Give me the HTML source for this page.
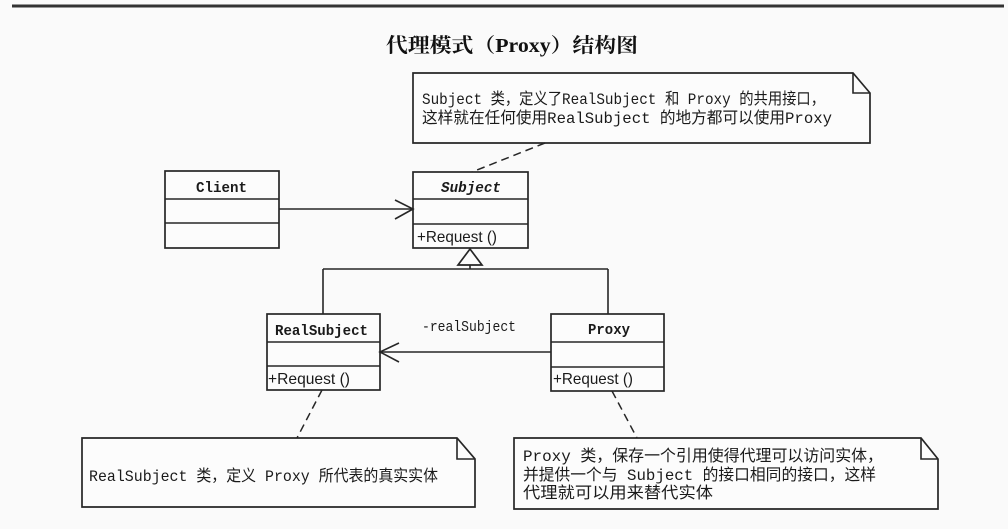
<!DOCTYPE html>
<html>
<head>
<meta charset="utf-8">
<style>
  html, body { margin: 0; padding: 0; background: #fafafa; }
  body { width: 1008px; height: 529px; overflow: hidden; }
  svg { display: block; }
  .ln { stroke: #262626; stroke-width: 1.6; fill: none; }
  .box { stroke: #262626; stroke-width: 1.7; fill: #fcfcfc; }
  .dash { stroke: #262626; stroke-width: 1.5; fill: none; stroke-dasharray: 8 5; }
  .mono { font-family: "Liberation Mono", "Noto Sans CJK SC", monospace; fill: #1a1a1a; }
  .note { font-family: "Liberation Mono", "Noto Sans CJK SC", monospace; font-size: 16px; fill: #1a1a1a; }
  .req { font-family: "Liberation Sans", sans-serif; font-size: 16px; fill: #1a1a1a; }
  .title { font-family: "Liberation Serif", "Noto Serif CJK SC", "Noto Sans CJK SC", serif; font-size: 20px; font-weight: bold; fill: #111; }
</style>
</head>
<body>
<svg width="1008" height="529" viewBox="0 0 1008 529" xmlns="http://www.w3.org/2000/svg">
  <!-- top rule -->
  <line x1="12" y1="6" x2="1004" y2="6" stroke="#333" stroke-width="3"/>

  <!-- title -->
  <text class="title" x="386" y="52" textLength="252" lengthAdjust="spacingAndGlyphs">代理模式（Proxy）结构图</text>

  <!-- top note -->
  <path class="box" d="M413,73 L853,73 L870,93 L870,143 L413,143 Z"/>
  <path class="ln" d="M853,73 L853,93 L870,93"/>
  <text class="note" x="422" y="104" textLength="403" lengthAdjust="spacingAndGlyphs">Subject 类，定义了RealSubject 和 Proxy 的共用接口，</text>
  <text class="note" x="422" y="123" textLength="410" lengthAdjust="spacingAndGlyphs">这样就在任何使用RealSubject 的地方都可以使用Proxy</text>
  <line class="dash" x1="545" y1="143" x2="472" y2="172"/>

  <!-- Client -->
  <rect class="box" x="165" y="171" width="114" height="77"/>
  <line class="ln" x1="165" y1="199" x2="279" y2="199"/>
  <line class="ln" x1="165" y1="223" x2="279" y2="223"/>
  <text class="mono" x="196" y="192" font-size="15" font-weight="bold" textLength="51" lengthAdjust="spacingAndGlyphs">Client</text>

  <!-- Subject -->
  <rect class="box" x="413" y="172" width="115" height="76"/>
  <line class="ln" x1="413" y1="199" x2="528" y2="199"/>
  <line class="ln" x1="413" y1="224" x2="528" y2="224"/>
  <text class="mono" x="441" y="192" font-size="15" font-style="italic" font-weight="bold" textLength="60" lengthAdjust="spacingAndGlyphs">Subject</text>
  <text class="req" x="417" y="242" textLength="80" lengthAdjust="spacingAndGlyphs">+Request ()</text>

  <!-- Client -> Subject -->
  <line class="ln" x1="279" y1="209" x2="413" y2="209"/>
  <path class="ln" d="M395,200 L413,209 L395,219"/>

  <!-- generalization -->
  <path class="box" d="M470,249 L458,265 L482,265 Z"/>
  <line class="ln" x1="470" y1="265" x2="470" y2="269"/>
  <line class="ln" x1="323" y1="269" x2="608" y2="269"/>
  <line class="ln" x1="323" y1="269" x2="323" y2="314"/>
  <line class="ln" x1="608" y1="269" x2="608" y2="314"/>

  <!-- RealSubject -->
  <rect class="box" x="267" y="314" width="113" height="76"/>
  <line class="ln" x1="267" y1="342" x2="380" y2="342"/>
  <line class="ln" x1="267" y1="366" x2="380" y2="366"/>
  <text class="mono" x="275" y="335" font-size="15" font-weight="bold" textLength="93" lengthAdjust="spacingAndGlyphs">RealSubject</text>
  <text class="req" x="268" y="384" textLength="82" lengthAdjust="spacingAndGlyphs">+Request ()</text>

  <!-- Proxy -->
  <rect class="box" x="551" y="314" width="113" height="77"/>
  <line class="ln" x1="551" y1="342" x2="664" y2="342"/>
  <line class="ln" x1="551" y1="367" x2="664" y2="367"/>
  <text class="mono" x="588" y="334" font-size="15" font-weight="bold" textLength="42" lengthAdjust="spacingAndGlyphs">Proxy</text>
  <text class="req" x="553" y="384" textLength="80" lengthAdjust="spacingAndGlyphs">+Request ()</text>

  <!-- Proxy -> RealSubject -->
  <line class="ln" x1="551" y1="352" x2="380" y2="352"/>
  <path class="ln" d="M399,343 L380,352 L399,362"/>
  <text class="mono" x="422" y="331" font-size="15" textLength="94" lengthAdjust="spacingAndGlyphs">-realSubject</text>

  <!-- bottom-left note -->
  <line class="dash" x1="322" y1="390" x2="297" y2="438"/>
  <path class="box" d="M82,438 L457,438 L475,459 L475,507 L82,507 Z"/>
  <path class="ln" d="M457,438 L457,459 L475,459"/>
  <text class="note" x="89" y="481" textLength="349" lengthAdjust="spacingAndGlyphs">RealSubject 类，定义 Proxy 所代表的真实实体</text>

  <!-- bottom-right note -->
  <line class="dash" x1="612" y1="391" x2="637" y2="438"/>
  <path class="box" d="M514,438 L921,438 L938,459 L938,509 L514,509 Z"/>
  <path class="ln" d="M921,438 L921,459 L938,459"/>
  <text class="note" x="523" y="461" textLength="360" lengthAdjust="spacingAndGlyphs">Proxy 类，保存一个引用使得代理可以访问实体，</text>
  <text class="note" x="523" y="480" textLength="353" lengthAdjust="spacingAndGlyphs">并提供一个与 Subject 的接口相同的接口，这样</text>
  <text class="note" x="523" y="498" textLength="190" lengthAdjust="spacingAndGlyphs">代理就可以用来替代实体</text>
</svg>
</body>
</html>
